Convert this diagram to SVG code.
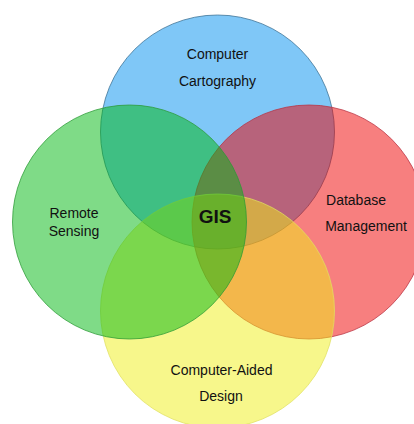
<svg xmlns="http://www.w3.org/2000/svg" width="414" height="424" viewBox="0 0 414 424">
  <style>
    .c { fill-opacity: 0.5; stroke-width: 1; stroke-opacity: 0.75; }
    .t { font-family: "Liberation Sans", Arial, sans-serif; font-size: 14px; fill: #111; text-anchor: middle; }
    .g { font-family: "Liberation Sans", Arial, sans-serif; font-size: 19px; font-weight: bold; fill: #111; text-anchor: middle; }
  </style>
  <rect width="414" height="424" fill="#ffffff"/>
  <g id="cartography">
    <circle class="c" cx="217.5" cy="132" r="117" fill="#0090f0" stroke="#3a6f92"/>
    <text class="t" x="217.5" y="59">Computer</text>
    <text class="t" x="217.5" y="86">Cartography</text>
  </g>
  <g id="database">
    <circle class="c" cx="309" cy="222" r="117" fill="#f00000" stroke="#b83040"/>
    <text class="t" x="356" y="205">Database</text>
    <text class="t" x="366" y="231">Management</text>
  </g>
  <g id="cad">
    <circle class="c" cx="217.5" cy="311" r="117" fill="#f0f018" stroke="#e0e060"/>
    <text class="t" x="221.5" y="375">Computer-Aided</text>
    <text class="t" x="221" y="400.5">Design</text>
  </g>
  <g id="remote">
    <circle class="c" cx="129.5" cy="222" r="117" fill="#00b810" stroke="#2a9a34"/>
    <text class="t" x="74" y="218">Remote</text>
    <text class="t" x="74" y="236">Sensing</text>
  </g>
  <g id="gis">
    <text class="g" x="215" y="223">GIS</text>
  </g>
  <g id="connectors"/>
</svg>
